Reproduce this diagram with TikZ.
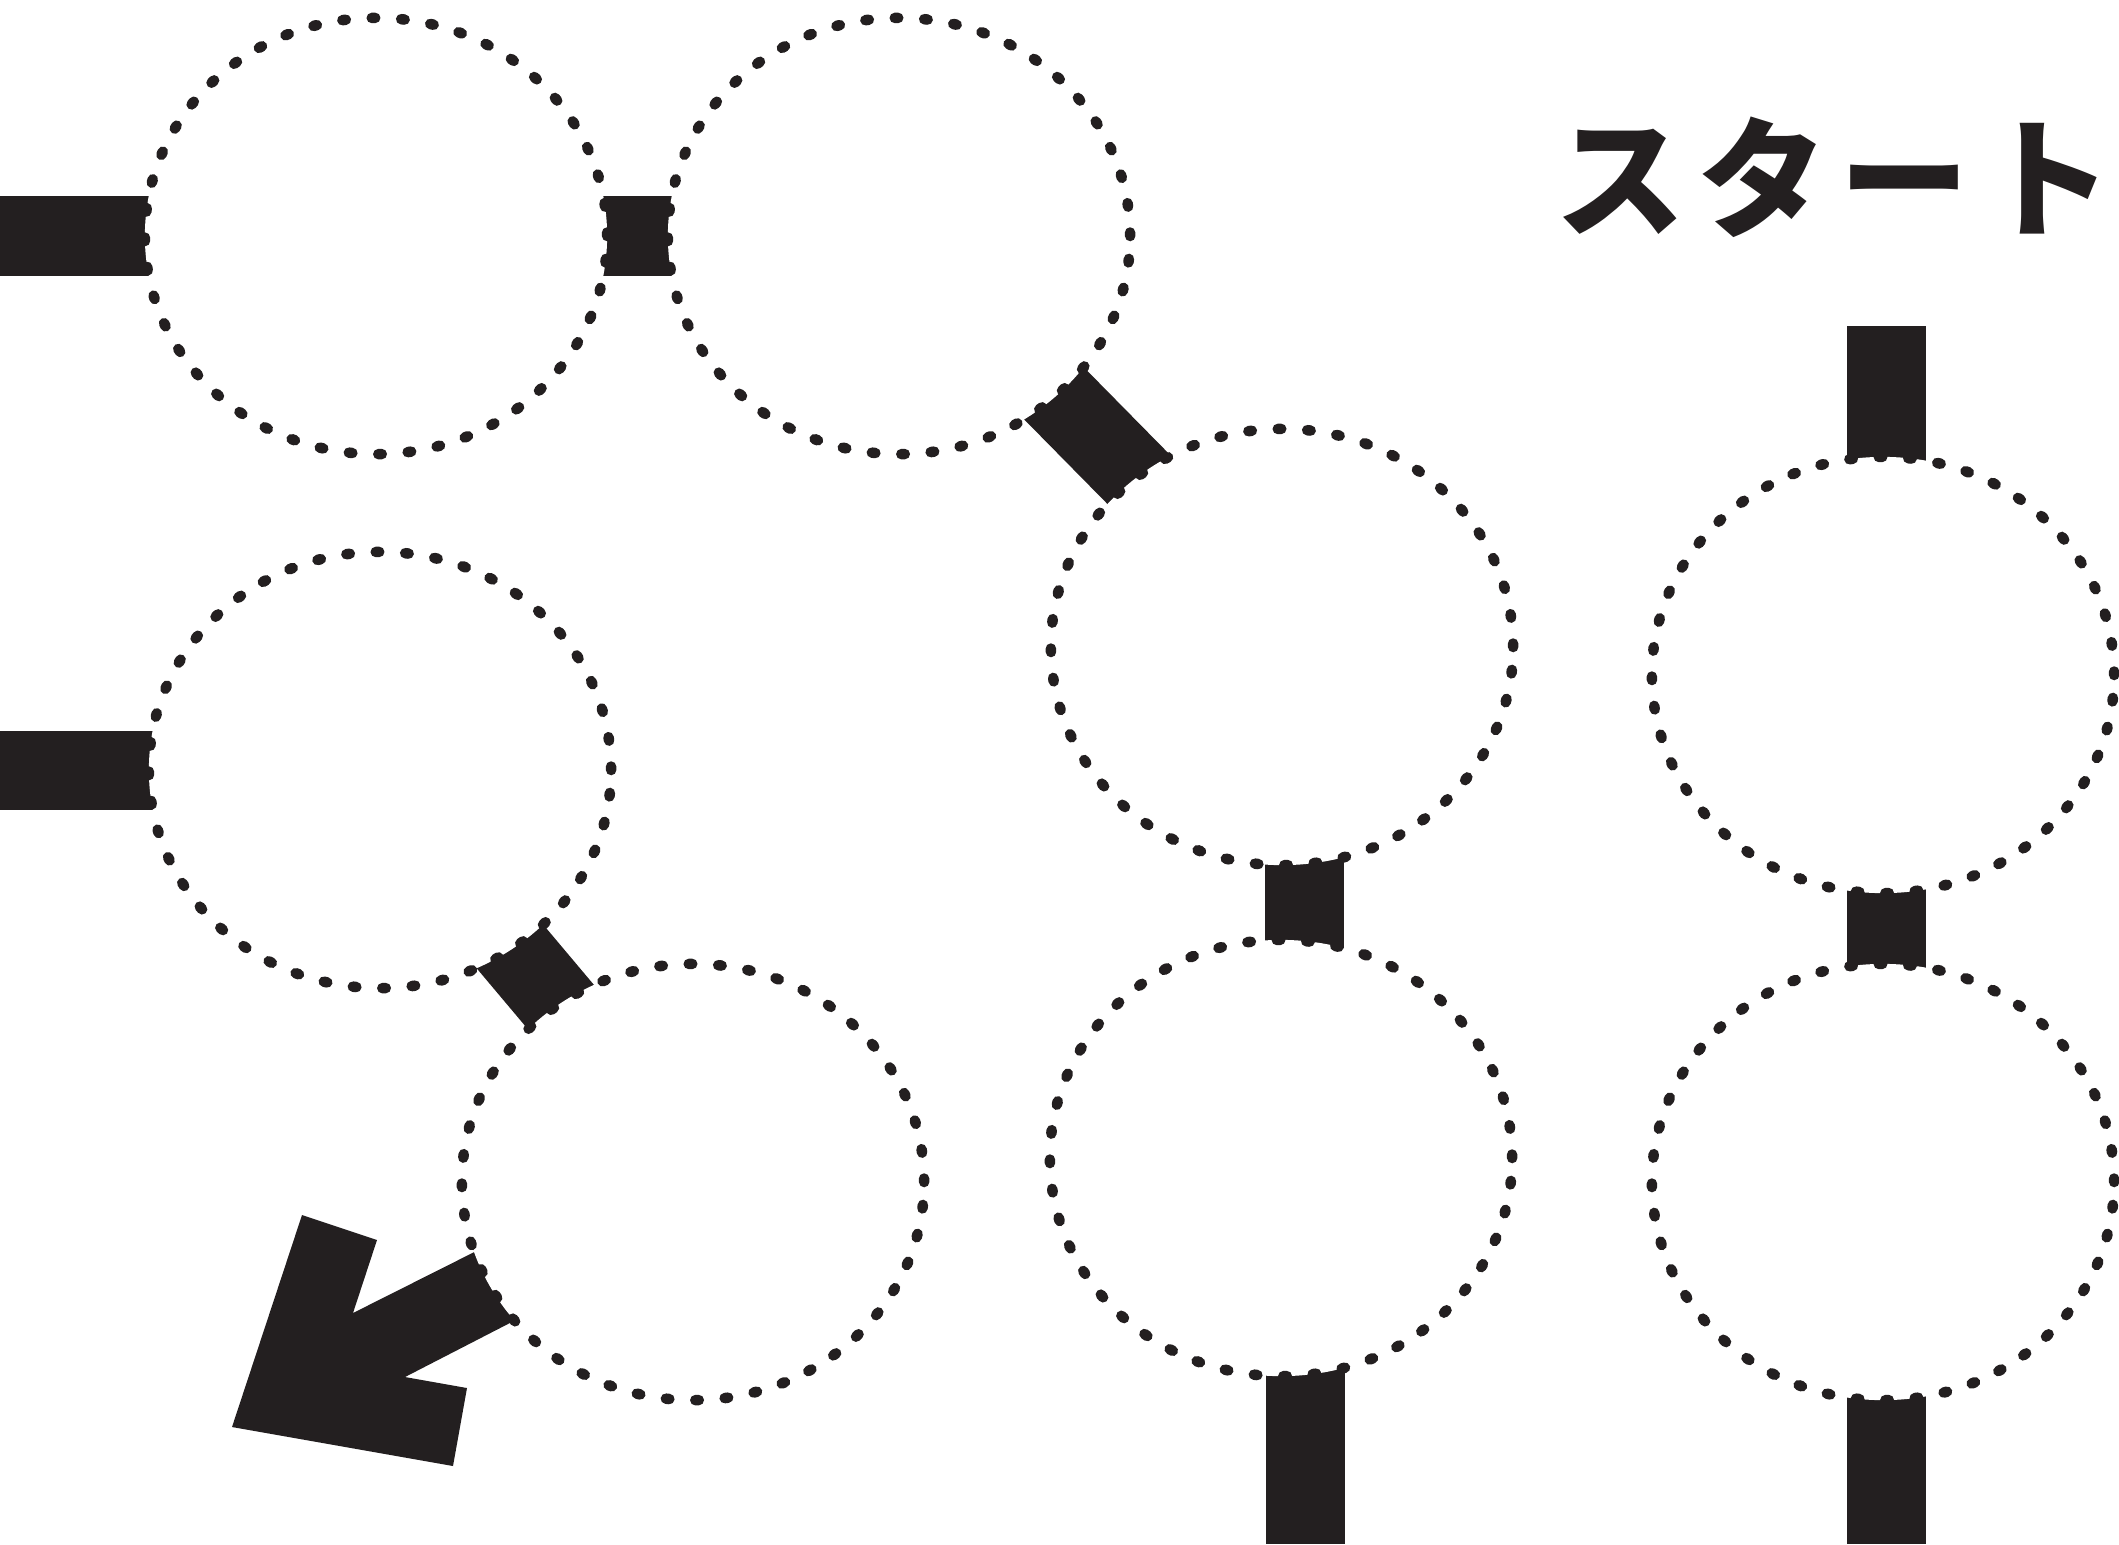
\documentclass[tikz,border=0pt]{standalone}
\usepackage{fontspec}
\newfontfamily\jpfont{Noto Sans CJK JP}
\usetikzlibrary{shapes.geometric,backgrounds}
\definecolor{ink}{HTML}{231F20}
\begin{document}
\begin{tikzpicture}[x=0.01cm,y=-0.01cm,
  ring/.style={ellipse, minimum width=4.62cm, minimum height=4.36cm, inner sep=0pt,
    fill=white, draw=ink, line width=0.105cm, line cap=round,
    dash pattern=on 0.035cm off 0.2596cm},
  bar/.style={draw=ink, line width=0.79cm, line cap=butt},
  title/.style={font=\jpfont\bfseries\fontsize{37}{37}\selectfont, text=ink, inner sep=0pt}]
\useasboundingbox (0,0) rectangle (2119,1544);

% loops
\node[ring] (e1) at (376,236) {};
\node[ring] (e2) at (899,236) {};
\node[ring] (e3) at (1282,647) {};
\node[ring] (e4) at (1883,675) {};
\node[ring] (e5) at (380,770) {};
\node[ring] (e6) at (693,1182) {};
\node[ring] (e7) at (1281,1158) {};
\node[ring] (e8) at (1883,1182) {};

% free ends and inner anchor points
\coordinate (inL1) at (0,236);
\coordinate (inL2) at (0,770);
\coordinate (start) at (1886,326);
\coordinate (out7) at (1305,1544);
\coordinate (out8) at (1886,1544);
\coordinate (p3) at (1290,633);
\coordinate (p5) at (380,792);
\coordinate (p6) at (693,1164);
\coordinate (p3b) at (1304,647);
\coordinate (p7) at (1304,1158);
\coordinate (p7b) at (1305,1158);
\coordinate (p4) at (1886,675);
\coordinate (p8) at (1886,1182);

\node[title] (t) at (1834,177) {ス\kern0.12cm タ\kern0.12cm ー\kern0.12cm ト};

\begin{scope}[on background layer]
  \draw[bar] (inL1) -- (e1.center);
  \draw[bar] (e1.center) -- (e2.center);
  \draw[bar] (inL2) -- (e5.center);
  \draw[bar] (e2.center) -- (p3);
  \draw[bar] (p5) -- (p6);
  \draw[bar] (p3b) -- (p7);
  \draw[bar] (p7b) -- (out7);
  \draw[bar] (start) -- (p4);
  \draw[bar] (p4) -- (p8);
  \draw[bar] (p8) -- (out8);
  % exit arrow out of e6
  \fill[ink] (302,1215) -- (377,1240) -- (353,1313) -- (532,1223) -- (572,1291)
    -- (405,1377) -- (467,1388) -- (453,1466) -- (232,1427) -- cycle;
\end{scope}
\end{tikzpicture}
\end{document}
